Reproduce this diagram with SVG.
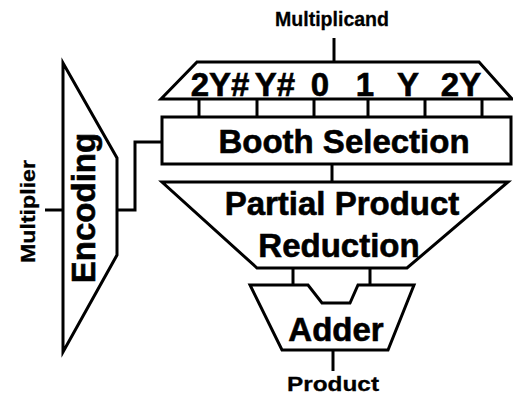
<svg xmlns="http://www.w3.org/2000/svg" width="513" height="396" viewBox="0 0 513 396">
<style>
.s{fill:#fff;stroke:#000;stroke-width:3;stroke-linejoin:miter}
.c{fill:none;stroke:#000;stroke-width:3}
.big{font-family:"Liberation Sans",Arial,sans-serif;font-weight:bold;font-size:33px;fill:#000;stroke:#000;stroke-width:0.6;text-anchor:middle}
.sm{font-family:"Liberation Sans",Arial,sans-serif;font-weight:bold;font-size:21px;fill:#000;stroke:#000;stroke-width:0.3;text-anchor:middle}
</style>
<rect width="513" height="396" fill="#fff"/>
<g id="connectors">
<line class="c" x1="334" y1="38" x2="334" y2="62"/>
<line class="c" x1="199" y1="100" x2="199" y2="117"/>
<line class="c" x1="257" y1="100" x2="257" y2="117"/>
<line class="c" x1="314" y1="100" x2="314" y2="117"/>
<line class="c" x1="368" y1="100" x2="368" y2="117"/>
<line class="c" x1="425" y1="100" x2="425" y2="117"/>
<line class="c" x1="482" y1="100" x2="482" y2="117"/>
<line class="c" x1="332" y1="164" x2="332" y2="182"/>
<line class="c" x1="293" y1="268" x2="293" y2="285"/>
<line class="c" x1="370" y1="268" x2="370" y2="285"/>
<line class="c" x1="333" y1="350" x2="333" y2="371"/>
<line class="c" x1="45" y1="210" x2="63" y2="210"/>
<polyline class="c" points="117,210 135,210 135,142 162,142"/>
</g>
<g id="multiplicand"><text class="sm" x="332" y="26" textLength="114" lengthAdjust="spacingAndGlyphs">Multiplicand</text></g>
<g id="mux">
<polygon class="s" points="197,62 479,62 512,99 161,99"/>
<text class="big" x="220" y="96">2Y#</text>
<text class="big" x="275" y="96">Y#</text>
<text class="big" x="320" y="96">0</text>
<text class="big" x="365" y="96">1</text>
<text class="big" x="408" y="96">Y</text>
<text class="big" x="461" y="96">2Y</text>
</g>
<g id="booth">
<rect class="s" x="162" y="117" width="349" height="47"/>
<text class="big" x="344" y="153">Booth Selection</text>
</g>
<g id="ppr">
<polygon class="s" points="162,182 508,182 407,268 257,268"/>
<text class="big" x="342" y="215">Partial Product</text>
<text class="big" x="339" y="257">Reduction</text>
</g>
<g id="adder">
<polygon class="s" points="250,285 308,285 322,303 350,303 358,285 414,285 388,350 282,350"/>
<text class="big" x="336" y="341">Adder</text>
</g>
<g id="product"><text class="sm" x="333" y="391" font-size="23" textLength="92" lengthAdjust="spacingAndGlyphs">Product</text></g>
<g id="encoding">
<polygon class="s" points="63,63 117,158 117,255 63,352"/>
<text class="big" transform="translate(95,208) rotate(-90)">Encoding</text>
</g>
<g id="multiplier"><text class="sm" transform="translate(35,211.5) rotate(-90)" font-size="22" textLength="103" lengthAdjust="spacingAndGlyphs">Multiplier</text></g>
</svg>
